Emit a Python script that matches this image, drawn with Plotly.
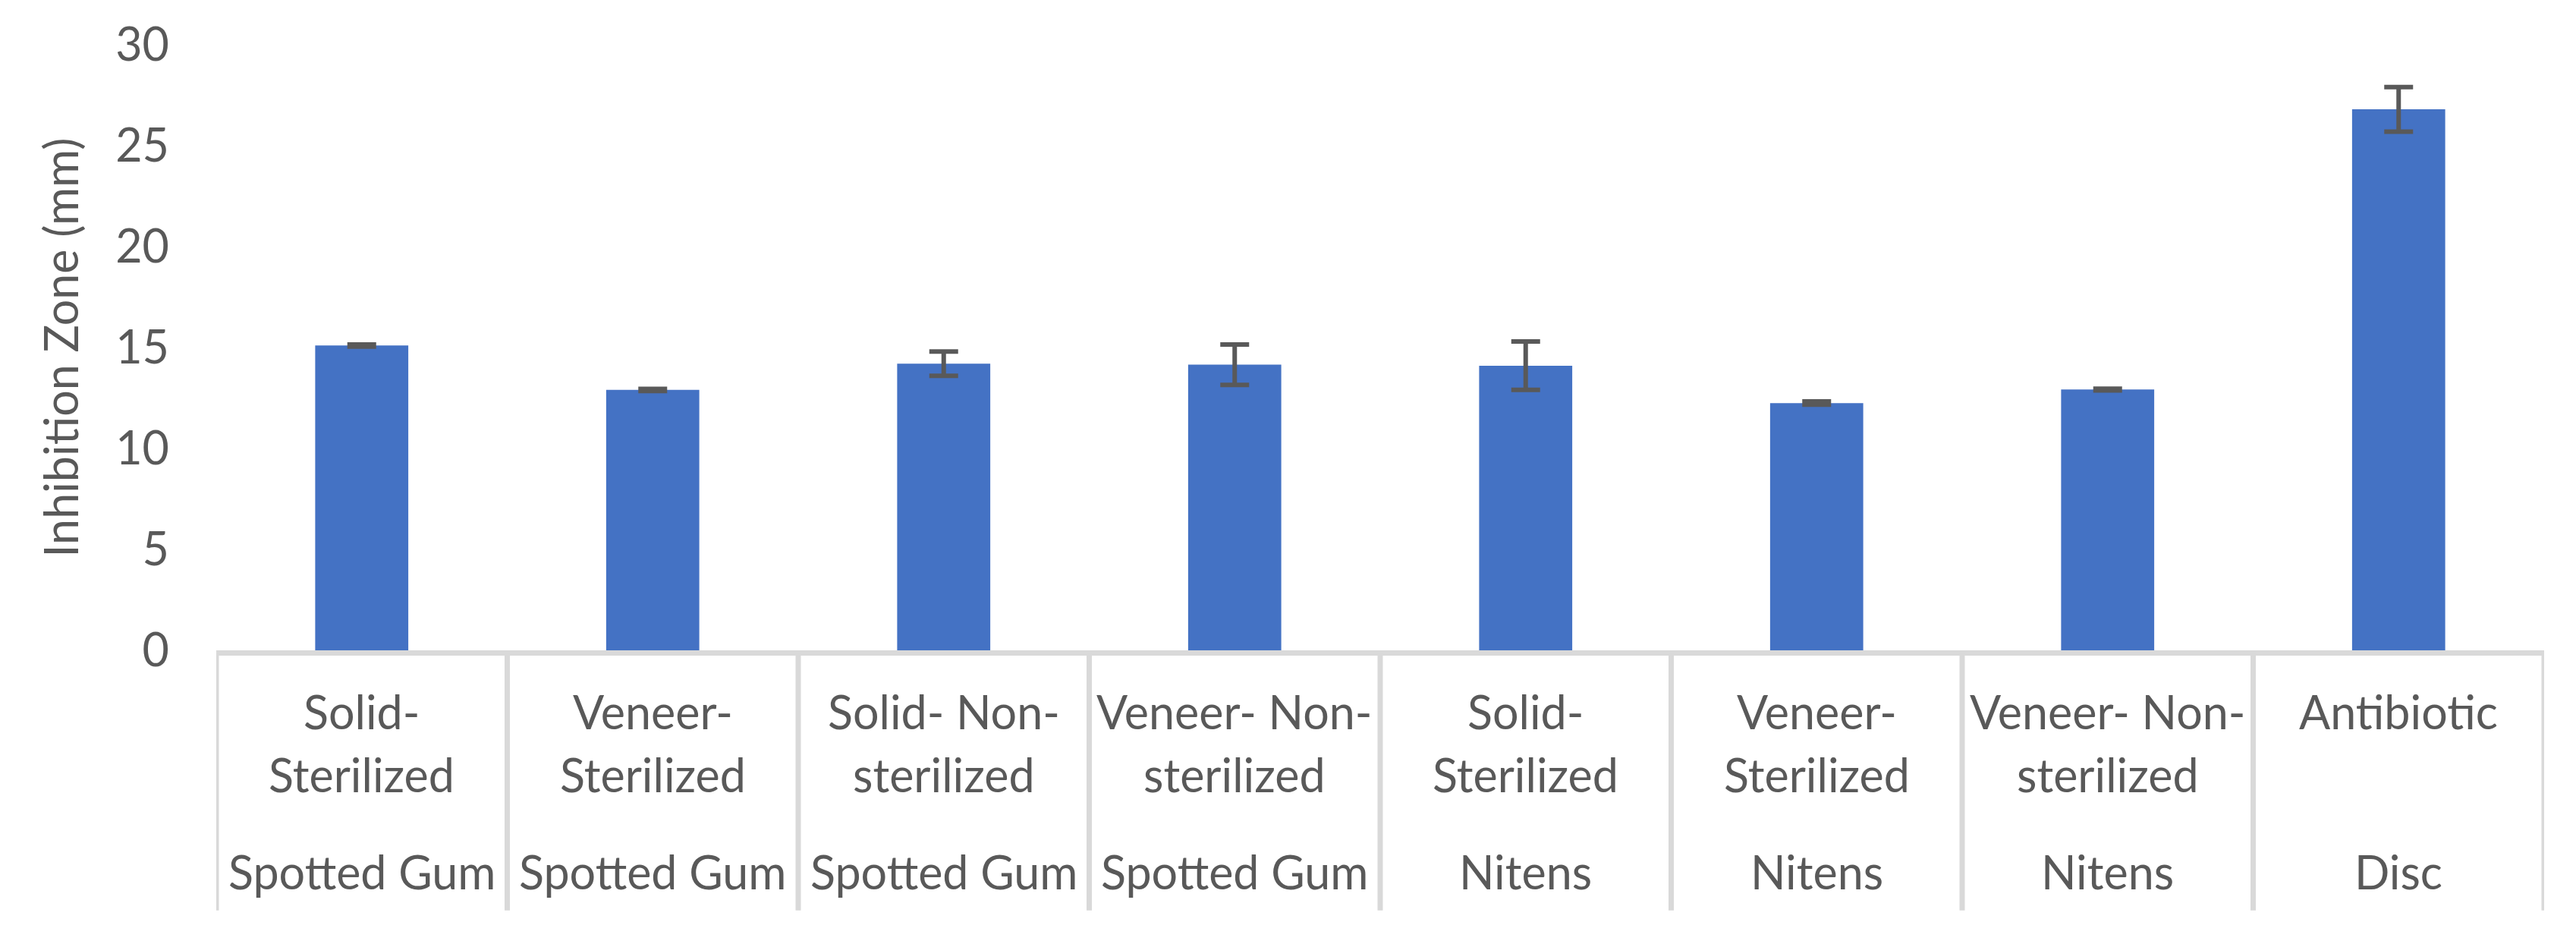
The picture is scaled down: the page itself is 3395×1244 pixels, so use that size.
import plotly.graph_objects as go

# ---- data ----
label_line1 = ["Solid-", "Veneer-", "Solid- Non-", "Veneer- Non-", "Solid-", "Veneer-", "Veneer- Non-", "Antibiotic"]
label_line2 = ["Sterilized", "Sterilized", "sterilized", "sterilized", "Sterilized", "Sterilized", "sterilized", ""]
group_labels = ["Spotted Gum", "Spotted Gum", "Spotted Gum", "Spotted Gum", "Nitens", "Nitens", "Nitens", "Disc"]
inhibition_mm = [15.1, 12.9, 14.2, 14.15, 14.1, 12.25, 12.92, 26.8]
error_mm = [0.05, 0.05, 0.6, 1.0, 1.2, 0.08, 0.04, 1.1]
y_ticks = [0, 5, 10, 15, 20, 25, 30]

categories = [f"{a} {b} ({g})" for a, b, g in zip(label_line1, label_line2, group_labels)]

TEXT = "#595959"
LINE = "#D9D9D9"
FONT = "Lato"
FS = 61

fig = go.Figure()
fig.add_trace(go.Bar(
    x=categories, y=inhibition_mm,
    marker=dict(color="#4472C4", line=dict(width=0)),
    error_y=dict(type="data", array=error_mm, visible=True, color="#595959", thickness=6, width=19),
))

W, H = 3395, 1244
top, bottom, left, right = 48, 395, 277, 50
plot_h = H - top - bottom

def py(pix):
    return ((H - bottom) - pix) / plot_h

annotations = []
for i, c in enumerate(categories):
    annotations.append(dict(x=c, xref="x", y=py(930), yref="paper", text=label_line1[i], showarrow=False,
                            font=dict(family=FONT, size=FS, color=TEXT), xanchor="center", yanchor="middle"))
    if label_line2[i]:
        annotations.append(dict(x=c, xref="x", y=py(1013), yref="paper", text=label_line2[i], showarrow=False,
                                font=dict(family=FONT, size=FS, color=TEXT), xanchor="center", yanchor="middle"))
    annotations.append(dict(x=c, xref="x", y=py(1142), yref="paper", text=group_labels[i], showarrow=False,
                            font=dict(family=FONT, size=FS, color=TEXT), xanchor="center", yanchor="middle"))

shapes = []
for i in range(len(categories) + 1):
    shapes.append(dict(type="line", xref="x", yref="paper", x0=i - 0.5, x1=i - 0.5,
                       y0=0, y1=py(1193), line=dict(color=LINE, width=7)))

fig.update_layout(
    width=W, height=H,
    margin=dict(t=top, b=bottom, l=left, r=right),
    paper_bgcolor="white", plot_bgcolor="white",
    showlegend=False,
    bargap=0.68,
    font=dict(family=FONT, size=FS, color=TEXT),
    xaxis=dict(showticklabels=False, ticks="", showgrid=False, showline=True, linecolor=LINE, linewidth=7,
               range=[-0.5, len(categories) - 0.5], zeroline=False),
    yaxis=dict(range=[0, 30], tickvals=y_ticks, showgrid=False, zeroline=False, showline=False, ticks="",
               ticklabelstandoff=61,
               title=dict(text="Inhibition Zone (mm)", standoff=28, font=dict(family=FONT, size=FS, color=TEXT)),
               tickfont=dict(family=FONT, size=FS, color=TEXT)),
    annotations=annotations,
    shapes=shapes,
)

fig.write_html("out.html")
